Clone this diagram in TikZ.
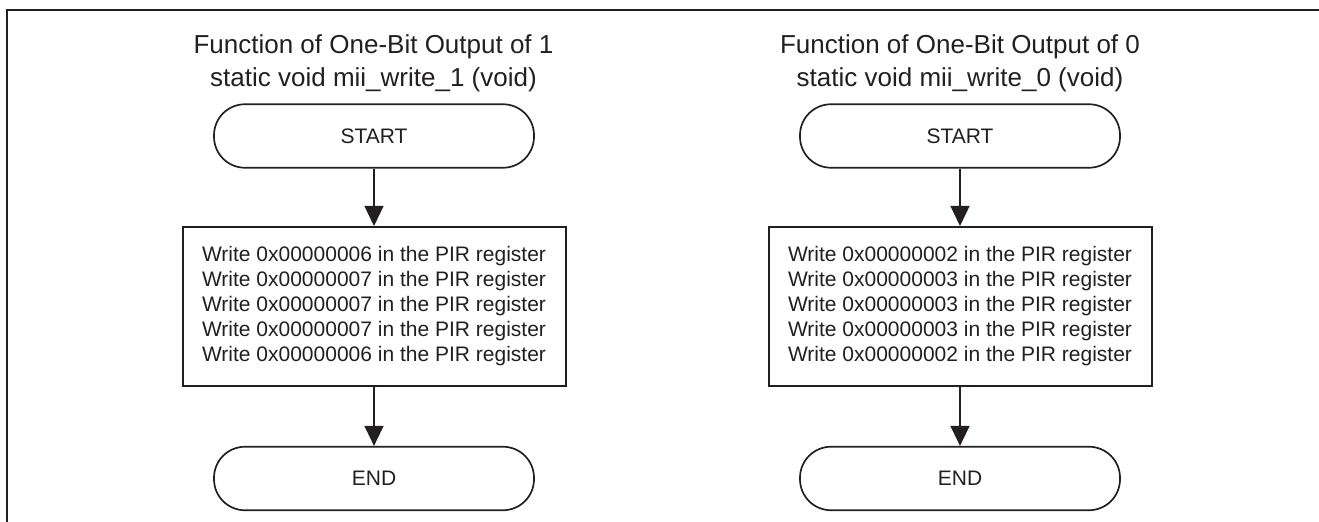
\documentclass[tikz,border=0pt]{standalone}
\usepackage{fontspec}
\setmainfont{Liberation Sans}
\usetikzlibrary{arrows.meta}
\definecolor{ink}{HTML}{231F20}
\begin{document}
\begin{tikzpicture}[x=0.5pt,y=-0.5pt,
  every node/.style={text=ink},
  titletext/.style={font=\fontsize{13pt}{16pt}\selectfont, anchor=base, inner sep=0pt},
  terminal/.style={draw=ink, line width=0.85pt, rounded corners=15.5pt,
    minimum width=160pt, minimum height=31.75pt, inner sep=0pt,
    font=\fontsize{10.5pt}{12.5pt}\selectfont},
  stepbox/.style={draw=ink, line width=1pt, minimum width=191.5pt,
    minimum height=79.5pt, align=center, inner sep=0pt,
    font=\fontsize{10.5pt}{12.5pt}\selectfont},
  conn/.style={draw=ink, line width=0.7pt, -{Triangle[length=10pt,width=9.5pt]}}
]
\useasboundingbox (0,0) rectangle (1319,522);
% outer frame (top and left edges)
\draw[ink, line width=1.25pt] (1319,10) -- (7,10) -- (7,522);

% ---- left flow: output of 1 ----
\node[titletext] (t1a) at (373.5,54) {Function of One-Bit Output of 1};
\node[titletext] (t1b) at (373.5,87) {static void mii\_write\_1 (void)};
\node[terminal] (s1) at (374,136) {START};
\node[stepbox] (b1) at (374,306.5) {Write 0x00000006 in the PIR register\\
  Write 0x00000007 in the PIR register\\
  Write 0x00000007 in the PIR register\\
  Write 0x00000007 in the PIR register\\
  Write 0x00000006 in the PIR register};
\node[terminal] (e1) at (374,478.5) {END};
\draw[conn] (s1) -- (b1);
\draw[conn] (b1) -- (e1);

% ---- right flow: output of 0 ----
\node[titletext] (t0a) at (960,54) {Function of One-Bit Output of 0};
\node[titletext] (t0b) at (960,87) {static void mii\_write\_0 (void)};
\node[terminal] (s0) at (960,136) {START};
\node[stepbox] (b0) at (960,306.5) {Write 0x00000002 in the PIR register\\
  Write 0x00000003 in the PIR register\\
  Write 0x00000003 in the PIR register\\
  Write 0x00000003 in the PIR register\\
  Write 0x00000002 in the PIR register};
\node[terminal] (e0) at (960,478.5) {END};
\draw[conn] (s0) -- (b0);
\draw[conn] (b0) -- (e0);
\end{tikzpicture}
\end{document}
